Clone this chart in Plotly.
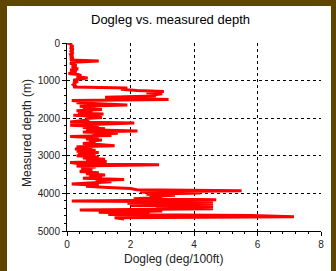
import plotly.graph_objects as go

depth_m = [
    0, 30, 60, 90, 120, 150, 180, 210, 240, 270, 300, 330, 360, 390, 420, 450, 480,
    510, 540, 570, 600, 630, 660, 690, 720, 750, 780, 810, 840, 870, 900, 930, 960, 990,
    1020, 1050, 1080, 1110, 1140, 1170, 1200, 1230, 1260, 1290, 1320, 1350, 1380, 1410,
    1440, 1470, 1500, 1530, 1560, 1590, 1620, 1650, 1680, 1710, 1740, 1770, 1800, 1830,
    1860, 1890, 1920, 1950, 1980, 2010, 2040, 2070, 2100, 2130, 2160, 2190, 2220, 2250,
    2280, 2310, 2340, 2370, 2400, 2430, 2460, 2490, 2520, 2550, 2580, 2610, 2640, 2670,
    2700, 2730, 2760, 2790, 2820, 2850, 2880, 2910, 2940, 2970, 3000, 3030, 3060, 3090,
    3120, 3150, 3180, 3210, 3240, 3270, 3300, 3330, 3360, 3390, 3420, 3450, 3480, 3510,
    3540, 3570, 3600, 3630, 3660, 3690, 3720, 3750, 3780, 3810, 3840, 3870, 3900, 3930,
    3960, 3990, 4020, 4050, 4080, 4110, 4140, 4170, 4200, 4230, 4260, 4290, 4320, 4350,
    4380, 4410, 4440, 4470, 4500, 4530, 4560, 4590, 4620, 4650, 4680,
]

dogleg = [
    0.0, 0.15, 0.1, 0.2, 0.1, 0.15, 0.2, 0.1, 0.15, 0.2, 0.12, 0.15, 0.1, 0.2, 0.15, 0.1, 1.0,
    0.2, 0.1, 0.25, 0.3, 0.15, 0.25, 0.35, 0.1, 0.3, 0.2, 0.05, 0.35, 0.45, 0.3, 0.65, 0.4, 0.2,
    0.35, 0.2, 0.25, 0.2, 0.25, 0.2, 1.9, 1.7, 2.2, 3.05, 2.5, 3.0, 2.7, 2.8,
    1.2, 2.6, 3.2, 0.15, 0.6, 0.3, 1.0, 1.9, 0.4, 0.9, 0.5, 1.1, 0.3, 0.8,
    0.35, 1.15, 0.2, 0.9, 1.1, 0.6, 0.7, 0.35, 0.1, 2.12, 0.6, 0.1, 1.0, 0.5,
    1.2, 0.6, 2.22, 0.5, 1.6, 0.8, 1.4, 0.1, 1.0, 0.6, 1.1, 0.7, 0.9, 0.5,
    1.0, 1.5, 0.3, 0.8, 0.25, 0.9, 0.3, 1.0, 0.35, 0.9, 0.3, 1.0, 0.5, 1.2,
    0.6, 1.25, 0.1, 0.4, 2.9, 0.3, 0.9, 0.45, 0.8, 0.6, 0.4, 1.0, 0.6, 1.2,
    0.7, 1.1, 0.5, 1.8, 0.9, 1.4, 0.8, 0.15, 1.0, 0.6, 1.3, 2.0, 2.2, 5.5,
    2.3, 4.2, 2.5, 3.4, 2.6, 3.0, 2.1, 4.7, 0.15, 4.6, 1.9, 4.6, 2.0, 4.6,
    2.8, 4.6, 0.4, 3.0, 1.0, 2.6, 1.3, 5.8, 7.15, 1.5, 1.8,
]

x_ticks = [0, 2, 4, 6, 8]
y_ticks = [0, 1000, 2000, 3000, 4000, 5000]

title_text = "Dogleg vs. measured depth"
x_title = "Dogleg (deg/100ft)"
y_title = "Measured depth (m)"

W, H = 336, 271
L, R, T, B = 67, 321, 43, 231
pw, ph = R - L, B - T


def px(x):
    return (x - L) / pw


def py(y):
    return (B - y) / ph


fig = go.Figure()
fig.add_trace(go.Scatter(
    x=dogleg, y=depth_m, mode="lines",
    line=dict(color="#ff0000", width=3),
    hoverinfo="skip", showlegend=False,
))

font = "Liberation Sans, Arial, sans-serif"
axis_common = dict(
    showline=True, linecolor="#000000", linewidth=1,
    ticks="outside", ticklen=4, tickcolor="#000000", tickwidth=1,
    showgrid=True, gridcolor="#000000", griddash="dot", gridwidth=1,
    zeroline=False, mirror=False,
    tickfont=dict(family=font, size=10, color="#222222"),
)

fig.update_xaxes(
    range=[0, 8], tickvals=x_ticks, ticktext=[str(v) for v in x_ticks],
    minor=dict(dtick=0.4, ticklen=2, tickcolor="#000000", ticks="outside", showgrid=False),
    **axis_common,
)
fig.update_yaxes(
    range=[5000, 0], tickvals=y_ticks, ticktext=[str(v) for v in y_ticks],
    minor=dict(dtick=200, ticklen=2, tickcolor="#000000", ticks="outside", showgrid=False),
    **axis_common,
)

fig.add_shape(type="rect", xref="paper", yref="paper",
              x0=px(7), x1=px(331), y0=py(275), y1=py(6),
              fillcolor="#ffffff", line=dict(width=0), layer="below")

fig.add_annotation(text=title_text, xref="paper", yref="paper",
                   x=px(170), y=py(20), showarrow=False,
                   font=dict(family=font, size=13, color="#000000"),
                   xanchor="center", yanchor="middle")
fig.add_annotation(text=x_title, xref="paper", yref="paper",
                   x=px(173), y=py(259), showarrow=False,
                   font=dict(family=font, size=12, color="#222222"),
                   xanchor="center", yanchor="middle")
fig.add_annotation(text=y_title, xref="paper", yref="paper",
                   x=px(27), y=py(133), showarrow=False, textangle=-90,
                   font=dict(family=font, size=12, color="#222222"),
                   xanchor="center", yanchor="middle")

fig.update_layout(
    width=W, height=H,
    margin=dict(l=L, r=W - R, t=T, b=H - B, pad=0),
    paper_bgcolor="#5e4500",
    plot_bgcolor="#ffffff",
    showlegend=False,
)

fig.write_html(
    "out.html",
    config={"displayModeBar": False, "staticPlot": True},
    post_script="document.body.style.margin='0';document.body.style.padding='0';document.body.style.overflow='hidden';",
)
